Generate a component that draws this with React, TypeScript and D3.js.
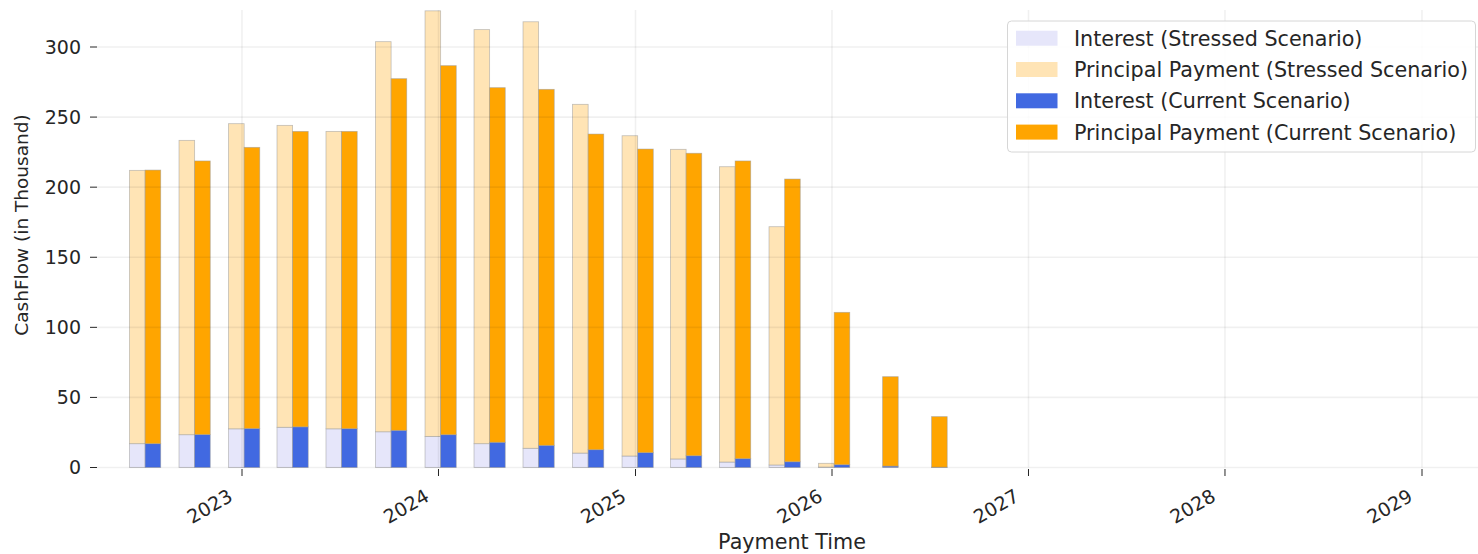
import * as d3 from "d3";

const payDates = [
  "2022-07-05", "2022-10-05", "2023-01-05", "2023-04-05", "2023-07-05", "2023-10-05",
  "2024-01-05", "2024-04-05", "2024-07-05", "2024-10-05", "2025-01-05", "2025-04-05",
  "2025-07-05", "2025-10-05", "2026-01-05", "2026-04-05", "2026-07-05",
];
const stressedInterest = [17.0, 23.4, 27.6, 28.7, 27.6, 25.5, 22.2, 17.0, 13.7, 10.3, 8.2, 6.1, 3.9, 1.8, 0.3, 0, 0];
const stressedPrincipal = [195.0, 210.0, 217.7, 215.4, 212.2, 278.3, 303.6, 295.4, 304.3, 248.8, 228.5, 220.9, 210.7, 170.0, 2.7, 0, 0];
const currentInterest = [17.0, 23.5, 27.8, 29.0, 27.7, 26.5, 23.4, 18.0, 15.8, 12.7, 10.6, 8.4, 6.3, 4.1, 2.0, 1.0, 0.2];
const currentPrincipal = [195.2, 195.2, 200.6, 210.8, 212.1, 250.9, 263.3, 253.0, 254.0, 225.2, 216.6, 215.8, 212.4, 201.7, 108.7, 63.8, 36.1];

const yearTicks = ["2023", "2024", "2025", "2026", "2027", "2028", "2029"];
const yTicks = [0, 50, 100, 150, 200, 250, 300];

const legendItems = [
  { label: "Interest (Stressed Scenario)", color: "#E6E6FA" },
  { label: "Principal Payment (Stressed Scenario)", color: "#FFE4B5" },
  { label: "Interest (Current Scenario)", color: "#4169E1" },
  { label: "Principal Payment (Current Scenario)", color: "#FFA500" },
];

const W = 1478;
const H = 554;
const plotLeft = 97;
const plotRight = 1478;
const plotTop = 10;
const plotBottom = 467.5;
const barDays = 29;
const font = "DejaVu Sans, sans-serif";
const ink = "#262626";

const parse = d3.timeParse("%Y-%m-%d");

export default function App() {
  const x = d3
    .scaleTime()
    .domain([parse("2023-01-01")!, parse("2029-01-01")!])
    .range([242, 1422]);
  const y = d3.scaleLinear().domain([0, 326.4]).range([plotBottom, plotTop]);

  const dates = payDates.map((s) => parse(s)!);

  // one stacked rect per segment
  const segs: { x0: number; x1: number; lo: number; hi: number; fill: string }[] = [];
  dates.forEach((d, i) => {
    const left = x(d3.timeDay.offset(d, -barDays));
    const mid = x(d);
    const right = x(d3.timeDay.offset(d, barDays));
    const si = stressedInterest[i], sp = stressedPrincipal[i];
    const ci = currentInterest[i], cp = currentPrincipal[i];
    if (si > 0) segs.push({ x0: left, x1: mid, lo: 0, hi: si, fill: "#E6E6FA" });
    if (sp > 0) segs.push({ x0: left, x1: mid, lo: si, hi: si + sp, fill: "#FFE4B5" });
    if (ci > 0) segs.push({ x0: mid, x1: right, lo: 0, hi: ci, fill: "#4169E1" });
    if (cp > 0) segs.push({ x0: mid, x1: right, lo: ci, hi: ci + cp, fill: "#FFA500" });
  });

  return (
    <svg width={W} height={H} style={{ position: "absolute", left: 0, top: 0, background: "#fff" }}>
      {segs.map((s, i) => (
        <rect
          key={i}
          x={s.x0}
          y={y(s.hi)}
          width={s.x1 - s.x0}
          height={y(s.lo) - y(s.hi)}
          fill={s.fill}
          stroke="#9a9a9a"
          strokeOpacity={0.6}
          strokeWidth={0.8}
        />
      ))}

      {/* grid sits over the bars */}
      {yTicks.map((t) => (
        <line key={"h" + t} x1={plotLeft} x2={plotRight} y1={y(t)} y2={y(t)} stroke="#000" strokeOpacity={0.06} strokeWidth={1.6} />
      ))}
      {yearTicks.map((t) => {
        const px = x(parse(t + "-01-01")!);
        return <line key={"v" + t} x1={px} x2={px} y1={plotTop} y2={plotBottom} stroke="#000" strokeOpacity={0.06} strokeWidth={1.6} />;
      })}

      {/* y axis */}
      {yTicks.map((t) => (
        <g key={"yt" + t}>
          <line x1={90} x2={97} y1={y(t)} y2={y(t)} stroke={ink} strokeWidth={1} />
          <text x={81} y={y(t)} dy="0.36em" textAnchor="end" fontFamily={font} fontSize={19} fill={ink}>
            {t}
          </text>
        </g>
      ))}
      <text
        transform={`translate(28,225) rotate(-90)`}
        textAnchor="middle"
        fontFamily={font}
        fontSize={18.5}
        fill={ink}
      >
        CashFlow (in Thousand)
      </text>

      {/* x axis */}
      {yearTicks.map((t) => {
        const px = x(parse(t + "-01-01")!);
        return (
          <g key={"xt" + t}>
            <line x1={px} x2={px} y1={469} y2={476} stroke={ink} strokeWidth={1} />
            <text
              transform={`translate(${px - 8},500) rotate(-30)`}
              textAnchor="end"
              fontFamily={font}
              fontSize={19}
              fill={ink}
            >
              {t}
            </text>
          </g>
        );
      })}
      <text x={792} y={549} textAnchor="middle" fontFamily={font} fontSize={20.7} fill={ink}>
        Payment Time
      </text>

      {/* legend */}
      <rect x={1007.5} y={21} width={468} height={131} rx={4} fill="#fff" fillOpacity={0.85} stroke="#d6d6d6" strokeWidth={1} />
      {legendItems.map((it, i) => {
        const cy = 38.2 + i * 31.3;
        return (
          <g key={it.label}>
            <rect x={1016} y={cy - 7.5} width={41.5} height={15} fill={it.color} />
            <text x={1074} y={cy} dy="0.36em" fontFamily={font} fontSize={20.7} fill={ink}>
              {it.label}
            </text>
          </g>
        );
      })}
    </svg>
  );
}
